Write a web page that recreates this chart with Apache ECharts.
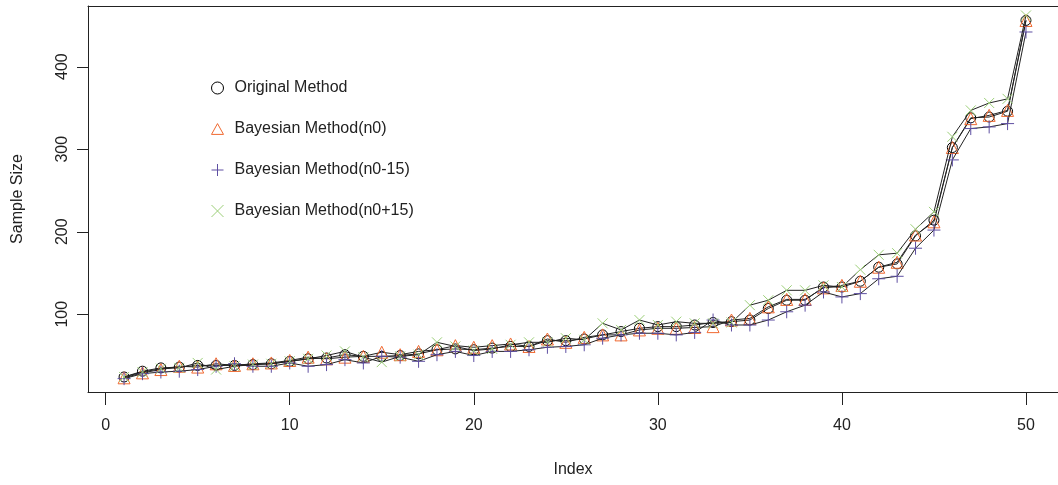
<!DOCTYPE html>
<html>
<head>
<meta charset="utf-8">
<script src="https://cdn.jsdelivr.net/npm/echarts@6/dist/echarts.min.js"></script>
<style>
  html, body { margin: 0; padding: 0; background: #fff; }
  #show { width: 1058px; height: 485px; }
</style>
</head>
<body>
<div id="show"></div>
<script>
// index 1..50
var xData = [];
for (var k = 1; k <= 50; k++) xData.push(k);

// Original Method
var origData = [24, 31, 35, 36, 38, 38, 38, 39, 40, 43,
	46, 47, 51, 49, 49, 50, 52, 57, 58, 57,
	59, 61, 61, 68, 68, 70, 75, 79, 83, 85,
	85, 87, 90, 91, 93, 107, 117, 117, 133, 133,
	140, 157, 161, 195, 214, 302, 338, 339, 346, 456];
// Bayesian Method(n0)
var n0Data = [23, 29, 33, 37, 36, 40, 38, 40, 41, 44,
	48, 46, 48, 49, 54, 51, 55, 57, 62, 60,
	62, 64, 61, 70, 66, 72, 75, 75, 81, 83,
	83, 84, 85, 93, 95, 109, 118, 118, 132, 135,
	140, 157, 163, 196, 212, 302, 337, 341, 347, 456];
// Bayesian Method(n0-15)
var minusData = [22, 28, 30, 31, 33, 37, 40, 37, 37, 41,
	37, 39, 45, 41, 49, 48, 43, 51, 55, 50,
	55, 55, 57, 60, 61, 63, 71, 75, 77, 77,
	75, 78, 93, 87, 87, 93, 103, 111, 127, 121,
	125, 143, 146, 180, 202, 287, 325, 327, 331, 442];
// Bayesian Method(n0+15)
var plusData = [24, 30, 34, 35, 41, 33, 37, 39, 40, 43,
	46, 50, 55, 48, 42, 49, 51, 66, 61, 56,
	58, 63, 66, 66, 71, 69, 89, 81, 93, 87,
	91, 89, 89, 90, 111, 117, 129, 129, 135, 133,
	154, 172, 174, 203, 224, 315, 347, 356, 361, 462];

var xTicks = [0, 10, 20, 30, 40, 50];
var yTicks = [100, 200, 300, 400];

var names = ['Original Method', 'Bayesian Method(n0)', 'Bayesian Method(n0-15)', 'Bayesian Method(n0+15)'];
var colors = ['#000000', '#F0682F', '#5E4FA2', '#9CCF78'];
var symbols = [
	'circle',
	'path://M5,0L10,9L0,9Z',
	'path://M5,0L5,10M0,5L10,5',
	'path://M0,0L10,10M10,0L0,10'
];
var sizes = [10, 12, 13, 10];
var allData = [origData, n0Data, minusData, plusData];

function pairs(arr) {
	var out = [];
	for (var i = 0; i < arr.length; i++) out.push([xData[i], arr[i]]);
	return out;
}

var seriesData = [];
for (var s = 0; s < 4; s++) {
	seriesData.push({
		name: names[s],
		type: 'line',
		xAxisIndex: 0,
		data: pairs(allData[s]),
		symbol: symbols[s],
		symbolSize: sizes[s],
		showAllSymbol: true,
		animation: false,
		z: 3 + s,
		lineStyle: { color: '#222', width: 1 },
		itemStyle: { color: 'rgba(0,0,0,0)', borderColor: colors[s], borderWidth: 1 },
		emphasis: { disabled: true }
	});
}

var legendData = [];
for (var s = 0; s < 4; s++) {
	legendData.push({
		name: names[s],
		icon: symbols[s],
		itemStyle: { color: 'rgba(0,0,0,0)', borderColor: colors[s], borderWidth: 1 }
	});
}

var font = 'Liberation Sans, Arial, sans-serif';
var lineCol = '#222';
var xMin = -0.96, xMax = 51.74;

var myEchart = echarts.init(document.getElementById('show'));
var option = {
	backgroundColor: '#fff',
	animation: false,
	textStyle: { fontFamily: font },
	grid: {
		left: 88, top: 6, right: 0, bottom: 93,
		outerBoundsMode: 'none',
		containLabel: false,
		show: false
	},
	legend: {
		orient: 'vertical',
		left: 206,
		top: 75,
		itemWidth: 12,
		itemHeight: 12,
		itemGap: 25,
		selectedMode: false,
		textStyle: { fontFamily: font, fontSize: 16, color: '#222', lineHeight: 16, padding: [0, 0, 0, 6] },
		data: legendData
	},
	xAxis: [{
		type: 'value',
		position: 'bottom',
		min: xMin,
		max: xMax,
		name: 'Index',
		nameLocation: 'middle',
		nameGap: 70,
		nameTextStyle: { fontFamily: font, fontSize: 16, color: '#222' },
		axisLine: { show: true, onZero: false, lineStyle: { color: lineCol, width: 1 } },
		splitLine: { show: false },
		axisTick: { show: true, inside: false, length: 13, customValues: xTicks, lineStyle: { color: lineCol, width: 1 } },
		axisLabel: { customValues: xTicks, margin: 26, fontFamily: font, fontSize: 16, color: '#222' }
	}, {
		// top edge of the box
		type: 'value',
		position: 'top',
		min: xMin,
		max: xMax,
		axisLine: { show: true, onZero: false, lineStyle: { color: lineCol, width: 1 } },
		axisTick: { show: false },
		axisLabel: { show: false },
		splitLine: { show: false }
	}],
	yAxis: {
		type: 'value',
		min: 5.8,
		max: 473.5,
		name: 'Sample Size',
		nameLocation: 'middle',
		nameGap: 62,
		nameRotate: 90,
		nameTextStyle: { fontFamily: font, fontSize: 16, color: '#222' },
		axisLine: { show: true, onZero: false, lineStyle: { color: lineCol, width: 1 } },
		splitLine: { show: false },
		axisTick: { show: false },
		axisLabel: { customValues: yTicks, rotate: 90, margin: 17, fontFamily: font, fontSize: 16, color: '#222' }
	},
	series: seriesData
};
myEchart.setOption(option);

// y ticks did not show on the left edge, so draw them from the axis scale
var edgeX = myEchart.convertToPixel({ xAxisIndex: 0 }, xMin);
var tickLines = [];
for (var t = 0; t < yTicks.length; t++) {
	var py = Math.round(myEchart.convertToPixel({ yAxisIndex: 0 }, yTicks[t])) + 0.5;
	tickLines.push({
		type: 'line',
		silent: true,
		shape: { x1: edgeX - 11, y1: py, x2: edgeX, y2: py },
		style: { stroke: lineCol, lineWidth: 1 }
	});
}
myEchart.setOption({ graphic: tickLines });
</script>
</body>
</html>
